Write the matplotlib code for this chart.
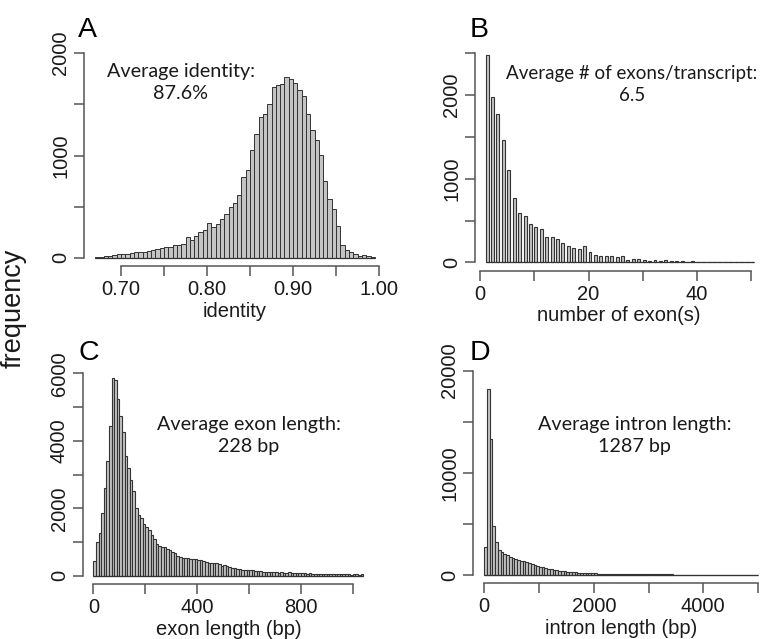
import matplotlib
matplotlib.use("Agg")
import matplotlib.pyplot as plt

# ---------------- data ----------------
# A: identity, bins of 0.005 starting at 0.67
identity_start = 0.67
identity_bin = 0.005
identity_counts = [5, 8, 13, 20, 26, 33, 40, 40, 50, 52, 58, 60, 70, 78, 85, 95,
                   105, 110, 130, 130, 135, 200, 172, 218, 250, 273, 338, 306, 332,
                   375, 430, 492, 534, 615, 788, 860, 1049, 1208, 1381, 1407, 1500,
                   1668, 1690, 1700, 1765, 1746, 1707, 1642, 1577, 1407, 1251, 1153,
                   1007, 752, 573, 476, 313, 130, 78, 52, 33, 20, 30, 20, 7]

# B: number of exons per transcript (1..50)
exon_number = list(range(1, 51))
exon_number_counts = [2478, 1972, 1773, 1462, 1104, 765, 594, 554, 458, 418,
                      402, 307, 303, 283, 231, 199, 167, 155, 195, 120,
                      88, 72, 76, 72, 64, 76, 28, 40, 40, 24,
                      20, 24, 20, 28, 16, 12, 12, 8, 12, 6,
                      5, 6, 4, 5, 4, 3, 3, 2, 2, 2]

# C: exon length, bins of 10 bp from 0
exon_len_bin = 10
exon_len_counts = [440, 1000, 1270, 1850, 2600, 3400, 4450, 5850, 5800, 5250,
                   4750, 4250, 3550, 3200, 2850, 2500, 2000, 1800, 1700, 1550,
                   1450, 1350, 1200, 1100, 950, 880, 870, 850, 800, 780,
                   720, 680, 600, 560, 540, 530, 520, 510, 500, 500,
                   480, 470, 430, 400, 390, 380, 390, 370, 340, 300,
                   330, 290, 260, 240, 230, 200, 190, 180, 170, 180,
                   160, 160, 150, 140, 140, 120, 130, 120, 110, 120,
                   110, 100, 110, 100, 90, 110, 90, 95, 80, 90,
                   100, 80, 70, 75, 70, 60, 70, 60, 70, 60,
                   70, 60, 50, 60, 50, 50, 45, 50, 45, 40,
                   55, 45, 40, 45]

# D: intron length, bins of 50 bp from 0
intron_len_bin = 50
intron_len_counts = [2780, 18200, 13300, 4850, 3270, 2500, 2250, 2100, 1950, 1800,
                     1700, 1600, 1520, 1430, 1350, 1270, 1180, 1100, 1000, 920,
                     840, 760, 690, 630, 570, 520, 470, 430, 390, 360,
                     330, 300, 280, 260, 240, 225, 210, 195, 185, 175,
                     165, 158, 150, 142, 135, 128, 122, 116, 110, 105,
                     100, 98, 95, 92, 90, 88, 85, 82, 80, 78,
                     76, 74, 72, 70, 68, 66, 65, 63, 62, 60,
                     58, 57, 56, 55, 54, 52, 51, 50, 49, 48,
                     47, 46, 45, 44, 44, 43, 42, 41, 40, 40,
                     39, 38, 37, 37, 36, 35, 35, 34, 33, 33]

# ---------------- style ----------------
W, H = 761, 639
AXIS_COLOR = '#555555'
TEXT_COLOR = '#1a1a1a'
BAR_FILL = '#c4c4c4'
BAR_EDGE = '#333333'
TICK_FONT = 'Liberation Sans'
NOTE_FONT = 'Lato'
NOTE_SIZE = 14.2

fig = plt.figure(figsize=(W / 100, H / 100), dpi=100)
fig.patch.set_facecolor('white')


def px_axes(left, right, top, bottom):
    return fig.add_axes([left / W, 1 - bottom / H, (right - left) / W, (bottom - top) / H])


def r_style(ax, xlim, ylim, xticks, xlabels, yticks, ylabels, xlabel):
    ax.set_xlim(*xlim)
    ax.set_ylim(*ylim)
    for s in ('top', 'right'):
        ax.spines[s].set_visible(False)
    for s in ('left', 'bottom'):
        ax.spines[s].set_color(AXIS_COLOR)
        ax.spines[s].set_linewidth(1.1)
    ax.spines['bottom'].set_bounds(xticks[0], xticks[-1])
    ax.spines['left'].set_bounds(yticks[0], yticks[-1])
    ax.set_xticks(xticks)
    ax.set_xticklabels(xlabels)
    ax.set_yticks(yticks)
    ax.set_yticklabels(ylabels, rotation=90, va='center')
    ax.tick_params(length=7.5, width=1.1, color=AXIS_COLOR, labelcolor=TEXT_COLOR,
                   labelsize=14.5, pad=2.5)
    for lab in ax.get_xticklabels() + ax.get_yticklabels():
        lab.set_fontfamily(TICK_FONT)
    ax.set_xlabel(xlabel, fontsize=14.5, family=TICK_FONT, color=TEXT_COLOR, labelpad=2)
    ax.set_facecolor('none')


def bars(ax, lefts, width, counts, lw=0.7):
    # R draws empty/near-empty bins as a line on the baseline
    ax.hlines(0, lefts[0], lefts[-1] + width, color=BAR_EDGE, linewidth=0.9)
    ax.bar(lefts, counts, width=width, align='edge', color=BAR_FILL,
           edgecolor=BAR_EDGE, linewidth=lw, clip_on=False)


def note(ax, x, y, txt, size=NOTE_SIZE):
    ax.text(x, y, txt, transform=ax.transAxes, ha='center', va='center',
            fontsize=size, family=NOTE_FONT, color=TEXT_COLOR, linespacing=1.35)


# ---------------- A ----------------
axA = px_axes(84, 386, 45, 266)
lefts = [identity_start + i * identity_bin for i in range(len(identity_counts))]
bars(axA, lefts, identity_bin, identity_counts)
r_style(axA, (0.657, 1.008), (-80, 2080),
        [0.70, 0.75, 0.80, 0.85, 0.90, 0.95, 1.00],
        ['0.70', '', '0.80', '', '0.90', '', '1.00'],
        [0, 500, 1000, 1500, 2000], ['0', '', '1000', '', '2000'], 'identity')
note(axA, 0.32, 0.83, 'Average identity:\n87.6%')

# ---------------- B ----------------
axB = px_axes(475, 761.6, 45, 270.7)
bars(axB, exon_number, 0.55, exon_number_counts, lw=0.8)
r_style(axB, (-0.96, 51.96), (-100, 2600),
        [0, 10, 20, 30, 40, 50], ['0', '', '20', '', '40', ''],
        [0, 500, 1000, 1500, 2000, 2500], ['0', '', '1000', '', '2000', ''],
        'number of exon(s)')
# the long note reaches the right edge of the figure, as in the source
note(axB, 0.548, 0.825, 'Average # of exons/transcript:\n6.5', size=13.5)

# ---------------- C ----------------
axC = px_axes(82.7, 374, 365.2, 584)
lefts = [i * exon_len_bin for i in range(len(exon_len_counts))]
bars(axC, lefts, exon_len_bin, exon_len_counts, lw=0.8)
r_style(axC, (-41.6, 1081.6), (-240, 6240),
        [0, 200, 400, 600, 800, 1000], ['0', '', '400', '', '800', ''],
        [0, 1000, 2000, 3000, 4000, 5000, 6000],
        ['0', '', '2000', '', '4000', '', '6000'], 'exon length (bp)')
note(axC, 0.57, 0.68, 'Average exon length:\n228 bp')

# ---------------- D ----------------
axD = px_axes(473.3, 769, 362.5, 583.3)
lefts = [i * intron_len_bin for i in range(len(intron_len_counts))]
bars(axD, lefts, intron_len_bin, intron_len_counts, lw=0.8)
r_style(axD, (-200, 5200), (-800, 20800),
        [0, 1000, 2000, 3000, 4000, 5000], ['0', '', '2000', '', '4000', ''],
        [0, 5000, 10000, 15000, 20000], ['0', '', '10000', '', '20000'],
        'intron length (bp)')
note(axD, 0.545, 0.67, 'Average intron length:\n1287 bp')

# ---------------- panel letters and shared label ----------------
for letter, x, y in [('A', 78, 37), ('B', 470, 37), ('C', 78, 360), ('D', 470, 360)]:
    fig.text(x / W, 1 - y / H, letter, fontsize=20.5, family=TICK_FONT,
             color='black', ha='left', va='baseline')

fig.text(14 / W, 1 - 308 / H, 'frequency', rotation=90, fontsize=19.5,
         family=TICK_FONT, color=TEXT_COLOR, ha='center', va='center')

fig.savefig('out.png', dpi=100, facecolor='white')
